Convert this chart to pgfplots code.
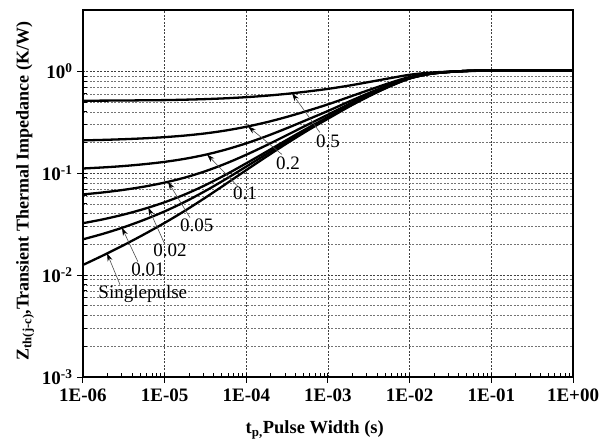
\documentclass[border=0pt]{standalone}
\usepackage{fontspec}
\setmainfont{Liberation Serif}
\usepackage{pgfplots}
\usepackage{pgfplotstable}
\pgfplotsset{compat=1.18}
\usetikzlibrary{arrows.meta}

% Zth curves: single pulse and duty cycles 0.01 ... 0.5
\pgfplotstableread{
t        sp      d01     d02     d05     d10     d20     d50
1e-6     0.01259 0.02246 0.03234 0.06196 0.1113  0.2101  0.514
1.78e-6  0.01567 0.02551 0.03536 0.06489 0.1141  0.2125  0.516
3.16e-6  0.01972 0.02952 0.03933 0.06873 0.1177  0.2158  0.517
5.62e-6  0.02518 0.03493 0.04468 0.07392 0.1227  0.2201  0.520
1e-5     0.03258 0.04225 0.05193 0.08095 0.1293  0.2261  0.522
1.78e-5  0.04295 0.05252 0.06209 0.09080 0.1387  0.2344  0.527
3.16e-5  0.05768 0.06710 0.07653 0.1048  0.1519  0.2461  0.534
5.62e-5  0.07852 0.08773 0.09695 0.1246  0.1707  0.2628  0.544
1e-4     0.1074  0.1163  0.1253  0.1520  0.1967  0.2859  0.558
1.78e-4  0.1462  0.1547  0.1633  0.1889  0.2316  0.3170  0.577
3.16e-4  0.1972  0.2052  0.2133  0.2373  0.2775  0.3578  0.602
5.62e-4  0.2624  0.2698  0.2772  0.2993  0.3362  0.4099  0.634
1e-3     0.3428  0.3494  0.3559  0.3757  0.4085  0.4742  0.673
1.78e-3  0.4467  0.4522  0.4578  0.4744  0.5020  0.5574  0.723
3.16e-3  0.5689  0.5732  0.5775  0.5905  0.6120  0.6551  0.785
5.62e-3  0.7079  0.7108  0.7137  0.7225  0.7371  0.7663  0.854
1e-2     0.8511  0.8526  0.8541  0.8585  0.8660  0.8809  0.926
1.78e-2  0.9441  0.9447  0.9452  0.9469  0.9497  0.9553  0.972
3.16e-2  0.9886  0.9887  0.9888  0.9892  0.9897  0.9909  0.994
5.62e-2  1.014   1.014   1.014   1.013   1.013   1.011   1.008
1e-1     1.020   1.020   1.020   1.020   1.020   1.020   1.018
3.16e-1  1.020   1.020   1.020   1.020   1.020   1.020   1.020
1        1.020   1.020   1.020   1.020   1.020   1.020   1.020
}\zth

\begin{document}
\begin{tikzpicture}
\begin{axis}[
  scale only axis,
  width=490pt, height=367pt,
  xmode=log, ymode=log,
  xmin=1e-6, xmax=1, ymin=1e-3, ymax=4,
  xtick={1e-6,1e-5,1e-4,1e-3,1e-2,1e-1,1},
  xticklabels={1E-06,1E-05,1E-04,1E-03,1E-02,1E-01,1E+00},
  ytick={1e-3,1e-2,1e-1,1},
  yticklabels={10\textsuperscript{-3},10\textsuperscript{-2},10\textsuperscript{-1},10\textsuperscript{0}},
  xtick pos=bottom, ytick pos=left,
  tick align=outside,
  major tick length=6pt, minor tick length=4pt,
  minor x tick style={yshift=4pt},
  minor y tick style={xshift=4pt},
  every tick/.style={black, line width=1pt},
  axis line style={line width=1.5pt},
  xmajorgrids, ymajorgrids, yminorgrids,
  major grid style={black!75, line width=0.6pt, dash pattern=on 2pt off 1.5pt},
  minor grid style={black!55, line width=0.6pt, dash pattern=on 2pt off 1.5pt},
  ticklabel style={font=\fontsize{19}{21}\selectfont\bfseries},
  xticklabel style={yshift=-2pt},
  yticklabel style={xshift=-1pt},
  xlabel={t\textsubscript{p,}Pulse Width (s)},
  ylabel={Z\textsubscript{th(j-c)},Transient Thermal Impedance (K/W)},
  xlabel style={at={(axis description cs:0.473,-0.155)}, anchor=base,
    font=\fontsize{18.5}{20}\selectfont\bfseries},
  ylabel style={at={(axis description cs:-0.118,0.507)}, anchor=center,
    font=\fontsize{18}{20}\selectfont\bfseries},
]
\addplot[black, line width=2.3pt, smooth] table[x=t, y=sp]  {\zth};
\addplot[black, line width=2.3pt, smooth] table[x=t, y=d01] {\zth};
\addplot[black, line width=2.3pt, smooth] table[x=t, y=d02] {\zth};
\addplot[black, line width=2.3pt, smooth] table[x=t, y=d05] {\zth};
\addplot[black, line width=2.3pt, smooth] table[x=t, y=d10] {\zth};
\addplot[black, line width=2.3pt, smooth] table[x=t, y=d20] {\zth};
\addplot[black, line width=2.3pt, smooth] table[x=t, y=d50] {\zth};

% callouts
\begin{scope}[black!70, line width=0.6pt, -{Stealth[length=8pt, width=5pt, black]}]
\draw (axis cs:7.96e-4,0.251)   -- (axis cs:3.63e-4,0.609);
\draw (axis cs:2.73e-4,0.153)   -- (axis cs:1.05e-4,0.288);
\draw (axis cs:7.9e-5,0.074)    -- (axis cs:3.3e-5,0.153);
\draw (axis cs:2.04e-5,0.0367)  -- (axis cs:1.1e-5,0.0825);
\draw (axis cs:1.01e-5,0.0199)  -- (axis cs:6.3e-6,0.0461);
\draw (axis cs:4.7e-6,0.01355)  -- (axis cs:3.0e-6,0.0292);
\draw (axis cs:2.84e-6,0.00805) -- (axis cs:1.97e-6,0.0164);
\end{scope}
\begin{scope}[every node/.style={font=\fontsize{19}{20}\selectfont, inner sep=0pt}]
\node at (axis cs:1e-3,0.205)     {0.5};
\node at (axis cs:3.23e-4,0.1245) {0.2};
\node at (axis cs:9.6e-5,0.063)   {0.1};
\node at (axis cs:2.48e-5,0.0306) {0.05};
\node at (axis cs:1.16e-5,0.0174) {0.02};
\node at (axis cs:6.25e-6,0.0113) {0.01};
\node at (axis cs:5.4e-6,0.00656) {Singlepulse};
\end{scope}
\end{axis}
\pgfresetboundingbox
\path[use as bounding box] (-83pt,-68pt) rectangle (526pt,377pt);
\end{tikzpicture}
\end{document}
